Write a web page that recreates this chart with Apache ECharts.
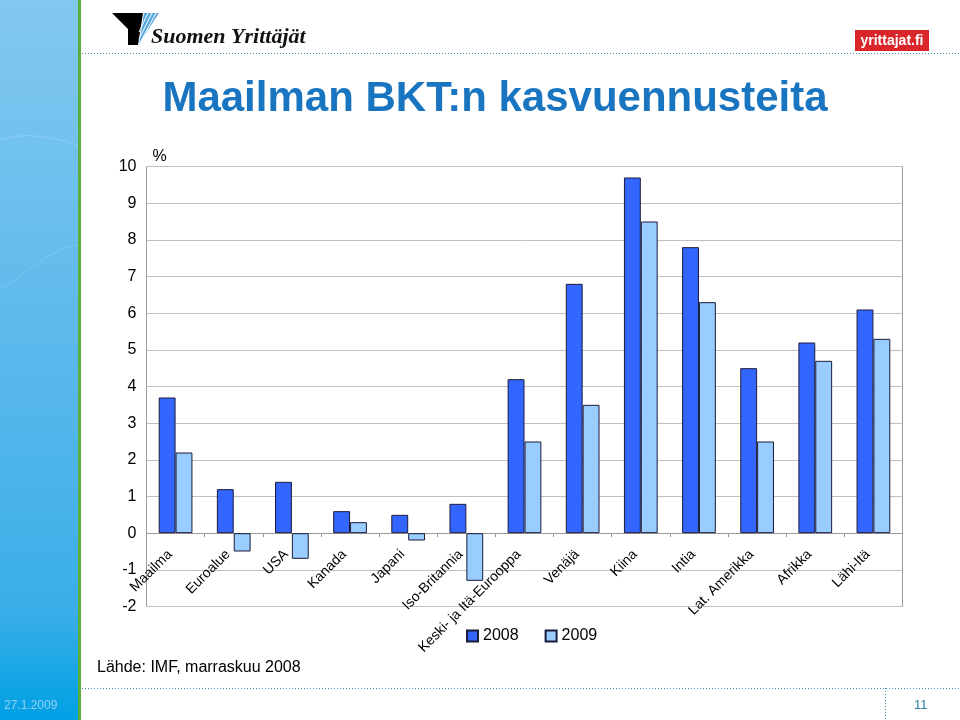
<!DOCTYPE html>
<html>
<head>
<meta charset="utf-8">
<script src="https://cdn.jsdelivr.net/npm/echarts@6/dist/echarts.min.js"></script>
<style>
html,body{margin:0;padding:0;background:#fff;}
#c{width:960px;height:720px;}
</style>
</head>
<body>
<div id="c"></div>
<script>
const categories = ["Maailma","Euroalue","USA","Kanada","Japani","Iso-Britannia","Keski- ja Itä-Eurooppa","Venäjä","Kiina","Intia","Lat. Amerikka","Afrikka","Lähi-Itä"];
const seriesNames = ["2008","2009"];
const values2008 = [3.7,1.2,1.4,0.6,0.5,0.8,4.2,6.8,9.7,7.8,4.5,5.2,6.1];
const values2009 = [2.2,-0.5,-0.7,0.3,-0.2,-1.3,2.5,3.5,8.5,6.3,2.5,4.7,5.3];
const yTicks = [-2,-1,0,1,2,3,4,5,6,7,8,9,10];

const chart = echarts.init(document.getElementById('c'), null, {renderer:'canvas'});
const font = 'Arial, "Liberation Sans", sans-serif';

const graphics = [
  // left sidebar
  {type:'rect', shape:{x:0,y:0,width:78,height:720}, z:0,
   style:{fill:new echarts.graphic.LinearGradient(0,0,0,1,[
     {offset:0,color:'#82c8f0'},{offset:0.5,color:'#5ab8ec'},{offset:0.85,color:'#3aaee8'},{offset:1,color:'#00a0e4'}])}},
  {type:'bezierCurve', shape:{x1:0,y1:140,x2:78,y2:145,cpx1:30,cpy1:130,cpx2:60,cpy2:140}, style:{stroke:'rgba(255,255,255,0.18)',lineWidth:1}},
  {type:'bezierCurve', shape:{x1:0,y1:290,x2:78,y2:245,cpx1:30,cpy1:270,cpx2:50,cpy2:250}, style:{stroke:'rgba(255,255,255,0.15)',lineWidth:1}},
  {type:'rect', shape:{x:78,y:0,width:3,height:720}, style:{fill:'#5cae3a'}},
  // header dotted line
  {type:'line', shape:{x1:82,y1:53.5,x2:960,y2:53.5}, style:{stroke:'#3d8fae',lineWidth:1,lineDash:[1,2]}},
  // footer lines
  {type:'line', shape:{x1:82,y1:688.5,x2:960,y2:688.5}, style:{stroke:'#3d8fae',lineWidth:1,lineDash:[1,2]}},
  {type:'line', shape:{x1:885.5,y1:688,x2:885.5,y2:720}, style:{stroke:'#3d8fae',lineWidth:1,lineDash:[1,2]}},
  {type:'text', x:4, y:700, style:{text:'27.1.2009', font:'12px '+font, fill:'#8fd0f5'}},
  {type:'text', x:914, y:699, style:{text:'11', font:'13px '+font, fill:'#2f7fa6'}},
  // Suomen Yrittäjät logo
  {type:'polygon', shape:{points:[[112,13],[143,13],[138,45],[128,45],[128,29]]}, style:{fill:'#000'}},
  {type:'polygon', shape:{points:[[144,13],[159,13],[139,44]]}, style:{fill:'#5aa8e0'}},
  {type:'line', shape:{x1:148,y1:13,x2:139,y2:32}, style:{stroke:'#fff',lineWidth:1}},
  {type:'line', shape:{x1:152,y1:13,x2:139,y2:39}, style:{stroke:'#fff',lineWidth:1}},
  {type:'line', shape:{x1:156,y1:13,x2:140,y2:43}, style:{stroke:'#fff',lineWidth:1}},
  {type:'text', x:151, y:26, style:{text:'Suomen Yrittäjät', font:'italic bold 22px "Liberation Serif", "DejaVu Serif", serif', fill:'#111'}},
  // yrittajat.fi logo
  {type:'rect', shape:{x:855,y:30,width:74,height:21}, style:{fill:'#d9262a'}},
  {type:'text', x:892, y:41, style:{text:'yrittajat.fi', font:'bold 14px '+font, fill:'#fff', align:'center', verticalAlign:'middle'}},
  // title
  {type:'text', x:495, y:99, style:{text:'Maailman BKT:n kasvuennusteita', font:'bold 42px '+font, fill:'#1a75c1', align:'center', verticalAlign:'middle'}},
  // source
  {type:'text', x:97, y:660, style:{text:'Lähde: IMF, marraskuu 2008', font:'16px '+font, fill:'#000'}},
  // plot border
  {type:'rect', shape:{x:146.5,y:166.5,width:756,height:440}, z:-1, style:{fill:'none',stroke:'#9a9a9a',lineWidth:1}}
];

chart.setOption({
  animation:false,
  backgroundColor:'#fff',
  textStyle:{fontFamily:font},
  graphic:graphics,
  grid:{left:146.5, right:57.5, top:166.5, bottom:113.5, containLabel:false},
  legend:{
    data:seriesNames, left:461, top:623, itemWidth:11, itemHeight:11, itemGap:26,
    icon:'rect',
    textStyle:{fontSize:16, color:'#000', fontFamily:font}
  },
  xAxis:{
    type:'category', data:categories,
    axisLine:{onZero:true, lineStyle:{color:'#9a9a9a', width:1}},
    axisTick:{show:true, length:4, lineStyle:{color:'#9a9a9a'}},
    axisLabel:{rotate:45, fontSize:14, color:'#000', margin:-60, interval:0, fontFamily:font, padding:[0,8,0,0]},
    splitLine:{show:false}
  },
  yAxis:{
    type:'value', min:-2, max:10, interval:1,
    name:'%', nameLocation:'end', nameGap:2,
    nameTextStyle:{fontSize:16, color:'#000', align:'left', padding:[0,0,0,6]},
    axisLine:{show:false}, axisTick:{show:false},
    axisLabel:{fontSize:16, color:'#000', margin:10,
      formatter:function(v){return yTicks.indexOf(v)>=0 ? String(v) : '';}},
    splitLine:{show:true, lineStyle:{color:'#c0c0c0', width:1}}
  },
  series:[
    {name:seriesNames[0], type:'bar', data:values2008, barGap:'0%', barCategoryGap:'42%',
     itemStyle:{color:'#3366ff', borderColor:'#1b1b3a', borderWidth:1}},
    {name:seriesNames[1], type:'bar', data:values2009, barGap:'0%', barCategoryGap:'42%',
     itemStyle:{color:'#99ccff', borderColor:'#1b1b3a', borderWidth:1}}
  ]
});
</script>
</body>
</html>
